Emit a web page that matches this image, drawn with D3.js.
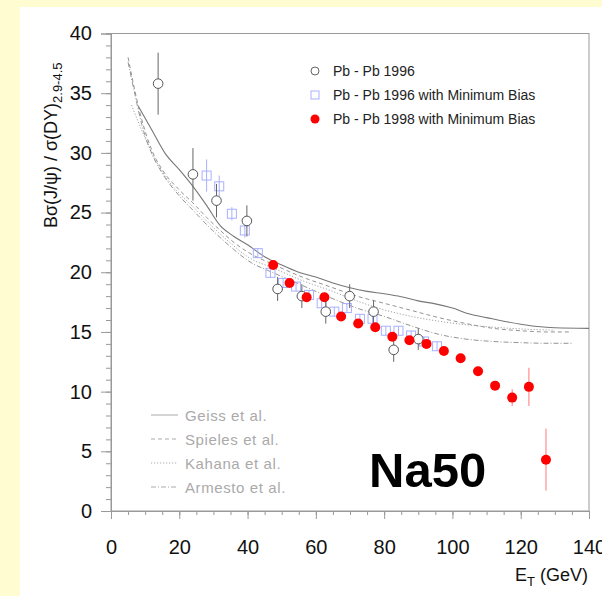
<!DOCTYPE html>
<html>
<head>
<meta charset="utf-8">
<script src="https://cdn.jsdelivr.net/npm/d3@7"></script>
<style>
  body { margin: 0; background: #fffcd2; }
  svg { display: block; }
  text { font-family: "Liberation Sans", Arial, sans-serif; }
</style>
</head>
<body>
<svg width="602" height="596"></svg>
<script>
// Pb-Pb 1996 (open circles): E_T, ratio, error
const pb96X   = [13.8, 24.0, 30.9, 39.8, 48.8, 55.9, 62.9, 69.9, 76.9, 82.8, 90.0];
const pb96Y   = [35.8, 28.2, 26.0, 24.3, 18.6, 18.0, 16.7, 18.0, 16.7, 13.5, 14.4];
const pb96Err = [2.6, 2.2, 1.4, 1.3, 1.0, 1.0, 1.0, 1.0, 0.95, 1.0, 0.9];

// Pb-Pb 1996 with minimum bias (open squares)
const mb96X   = [28.0, 31.7, 35.4, 39.2, 43.0, 46.7, 50.4, 54.2, 58.0, 61.7, 65.4, 69.1, 72.9, 76.6, 80.5, 84.2, 87.9, 91.7, 95.5];
const mb96Y   = [28.1, 27.2, 24.9, 23.5, 21.6, 19.95, 19.1, 18.8, 18.1, 17.4, 16.7, 17.0, 16.1, 16.1, 15.1, 15.1, 14.7, 14.2, 13.8];
const mb96Err = [1.35, 0.9, 0.55, 0.6, 0.4, 0.4, 0.4, 0.4, 0.4, 0.4, 0.4, 0.4, 0.4, 0.4, 0.4, 0.4, 0.4, 0.4, 0.4];

// Pb-Pb 1998 with minimum bias (filled red)
const mb98X   = [47.5, 52.3, 57.3, 62.5, 67.4, 72.4, 77.4, 82.4, 87.4, 92.4, 97.5, 102.4, 107.5, 112.5, 117.5, 122.4, 127.4];
const mb98Y   = [20.6, 19.1, 17.9, 17.9, 16.3, 15.7, 15.4, 14.6, 14.3, 14.0, 13.4, 12.8, 11.7, 10.5, 9.5, 10.4, 4.3];
const mb98Err = [0.3, 0.3, 0.3, 0.3, 0.3, 0.3, 0.3, 0.3, 0.3, 0.3, 0.3, 0.3, 0.3, 0.3, 0.7, 1.6, 2.6];

// model curves
const geiss = [[8,33.9],[12,31.9],[16,29.9],[20,28.6],[24,27.2],[28,25.6],[32,23.9],[36,23.0],[40,22.3],[45,21.3],[50,20.6],[55,20.0],[60,19.6],[65,19.1],[70,18.7],[75,18.4],[80,18.2],[85,17.95],[90,17.6],[95,17.35],[100,17.0],[105,16.5],[110,16.2],[115,15.9],[120,15.65],[125,15.45],[130,15.35],[140,15.3]];
const spieles = [[5,38],[7,35.2],[9,32.8],[12,30.2],[15,28.6],[20,26.9],[24,25.8],[28,24.6],[32,23.5],[36,22.5],[40,21.7],[48,20.6],[56,19.6],[64,18.8],[72,18.0],[80,17.4],[88,16.8],[96,16.2],[104,15.7],[112,15.3],[120,15.1],[128,15.0],[135,15.0]];
const kahana = [[6,34],[9,31.9],[12,30.0],[16,28.0],[20,26.6],[24,25.5],[28,24.3],[32,23.2],[36,22.2],[40,21.3],[48,20.3],[56,19.3],[64,18.5],[72,17.6],[80,16.85],[88,16.3],[96,15.9],[104,15.6],[112,15.4],[120,15.25],[130,15.15]];
const armesto = [[5,37.6],[7,34.9],[9,32.4],[12,29.9],[15,28.3],[20,26.4],[24,25.2],[28,24.0],[32,22.9],[36,21.9],[40,21.0],[48,19.9],[56,18.9],[64,17.9],[72,17.0],[80,16.3],[88,15.5],[96,14.8],[104,14.4],[112,14.2],[120,14.1],[128,14.05],[135,14.05]];

const xTicks = [0, 20, 40, 60, 80, 100, 120, 140];
const yTicks = [0, 5, 10, 15, 20, 25, 30, 35, 40];
const modelNames = ["Geiss et al.", "Spieles et al.", "Kahana et al.", "Armesto et al."];
const dataNames = ["Pb - Pb 1996", "Pb - Pb 1996 with Minimum Bias", "Pb - Pb 1998 with Minimum Bias"];

const svg = d3.select("svg");

svg.append("rect").attr("x", 20).attr("y", 7).attr("width", 582).attr("height", 589).attr("fill", "#fff");

const x = d3.scaleLinear().domain([0, 140]).range([111, 589]);
const y = d3.scaleLinear().domain([0, 40]).range([511, 33.5]);

// frame
svg.append("rect")
  .attr("x", x(0)).attr("y", y(40))
  .attr("width", x(140) - x(0)).attr("height", y(0) - y(40))
  .attr("fill", "none").attr("stroke", "#999");

// axes
const xMinor = svg.append("g").attr("transform", `translate(0,${y(0)})`)
  .call(d3.axisBottom(x).tickValues(d3.range(0, 141, 5)).tickSize(4).tickFormat(""));
const xMajor = svg.append("g").attr("transform", `translate(0,${y(0)})`)
  .call(d3.axisBottom(x).tickValues(xTicks).tickSize(8).tickPadding(21));
const yMinor = svg.append("g").attr("transform", `translate(${x(0)},0)`)
  .call(d3.axisLeft(y).tickValues(d3.range(0, 41, 1)).tickSize(5).tickFormat(""));
const yMajor = svg.append("g").attr("transform", `translate(${x(0)},0)`)
  .call(d3.axisLeft(y).tickValues(yTicks).tickSize(10).tickPadding(9));

[xMinor, xMajor, yMinor, yMajor].forEach(g => {
  g.select(".domain").attr("stroke", "#999");
  g.selectAll(".tick line").attr("stroke", "#999");
  g.selectAll(".tick text").attr("font-size", 20).attr("fill", "#111")
    .attr("font-family", "Liberation Sans, Arial, sans-serif");
});

// model curves
const line = d3.line().x(d => x(d[0])).y(d => y(d[1])).curve(d3.curveMonotoneX);
const styles = [
  { data: geiss, dash: null, color: "#777", w: 1.1 },
  { data: spieles, dash: "4,3", color: "#888", w: 0.9 },
  { data: kahana, dash: "1.2,1.8", color: "#999", w: 0.9 },
  { data: armesto, dash: "5,2,1,2", color: "#888", w: 0.9 }
];
styles.forEach(s => {
  svg.append("path").datum(s.data)
    .attr("d", line).attr("fill", "none")
    .attr("stroke", s.color).attr("stroke-width", s.w)
    .attr("stroke-dasharray", s.dash);
});

function rows(xs, ys, es) {
  return xs.map((v, i) => ({ x: v, y: ys[i], e: es[i] }));
}

// error bars
function errBars(data, color) {
  svg.append("g").selectAll("line").data(data).join("line")
    .attr("x1", d => x(d.x)).attr("x2", d => x(d.x))
    .attr("y1", d => y(d.y - d.e)).attr("y2", d => y(d.y + d.e))
    .attr("stroke", color).attr("stroke-width", 1);
}

const pb96 = rows(pb96X, pb96Y, pb96Err);
const mb96 = rows(mb96X, mb96Y, mb96Err);
const mb98 = rows(mb98X, mb98Y, mb98Err);

errBars(mb96, "#a9b0ff");
svg.append("g").selectAll("rect").data(mb96).join("rect")
  .attr("x", d => x(d.x) - 4.5).attr("y", d => y(d.y) - 4.5)
  .attr("width", 9).attr("height", 9)
  .attr("fill", "none").attr("stroke", "#a9b0ff").attr("stroke-width", 1);

errBars(pb96, "#666");
svg.append("g").selectAll("circle").data(pb96).join("circle")
  .attr("cx", d => x(d.x)).attr("cy", d => y(d.y)).attr("r", 4.8)
  .attr("fill", "#fff").attr("stroke", "#555").attr("stroke-width", 1);

errBars(mb98, "#f77");
svg.append("g").selectAll("circle").data(mb98).join("circle")
  .attr("cx", d => x(d.x)).attr("cy", d => y(d.y)).attr("r", 5)
  .attr("fill", "#f00");

// data legend
const leg = svg.append("g");
dataNames.forEach((name, i) => {
  const cy = 71 + i * 24;
  if (i === 0) leg.append("circle").attr("cx", 315).attr("cy", cy).attr("r", 4).attr("fill", "none").attr("stroke", "#666");
  if (i === 1) leg.append("rect").attr("x", 311).attr("y", cy - 4).attr("width", 8).attr("height", 8).attr("fill", "none").attr("stroke", "#a9b0ff");
  if (i === 2) leg.append("circle").attr("cx", 315).attr("cy", cy).attr("r", 4.5).attr("fill", "#f00");
  leg.append("text").attr("x", 333).attr("y", cy + 5).attr("font-size", 14).attr("fill", "#222").text(name);
});

// model legend
modelNames.forEach((name, i) => {
  const cy = 415 + i * 24;
  const s = styles[i];
  svg.append("line").attr("x1", 151).attr("x2", 178).attr("y1", cy).attr("y2", cy)
    .attr("stroke", "#aaa").attr("stroke-width", 1).attr("stroke-dasharray", s.dash);
  svg.append("text").attr("x", 185).attr("y", cy + 5.5).attr("font-size", 15)
    .attr("letter-spacing", 0.6).attr("fill", "#aaa").text(name);
});

// Na50 label
svg.append("text").attr("x", 369).attr("y", 487).attr("font-size", 49)
  .attr("font-weight", "bold").attr("fill", "#000").text("Na50");

// y axis title
const yt = svg.append("text").attr("transform", "translate(57,228) rotate(-90)")
  .attr("font-size", 18).attr("fill", "#111");
yt.append("tspan").text("Bσ(J/ψ) / σ(DY)");
yt.append("tspan").attr("font-size", 13).attr("dy", 5).text("2.9-4.5");

// x axis title
const xt = svg.append("text").attr("x", 588).attr("y", 581).attr("text-anchor", "end")
  .attr("font-size", 18).attr("fill", "#111");
xt.append("tspan").text("E");
xt.append("tspan").attr("font-size", 13).attr("dy", 5).text("T");
xt.append("tspan").attr("dy", -5).text(" (GeV)");
</script>
</body>
</html>
